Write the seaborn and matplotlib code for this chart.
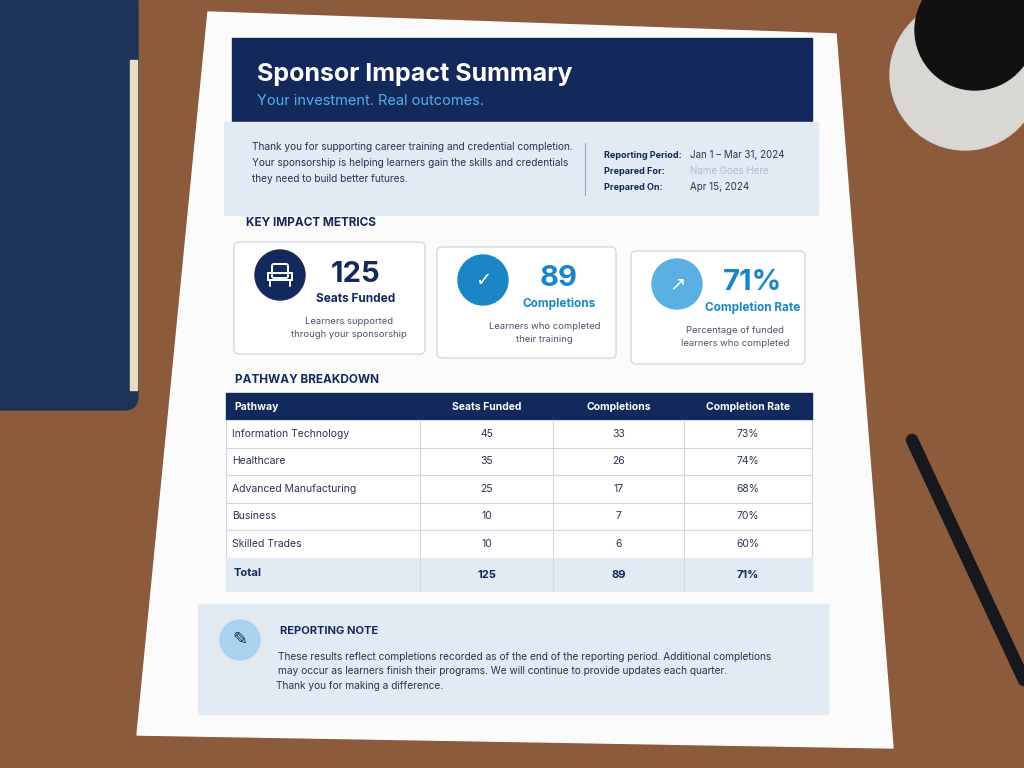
import matplotlib.pyplot as plt
import matplotlib.patches as mpatches
import seaborn as sns

# ---- data ----
pathways = ["Information Technology", "Healthcare", "Advanced Manufacturing", "Business", "Skilled Trades"]
seats_funded = [45, 35, 25, 10, 10]
completions = [33, 26, 17, 7, 6]
completion_rate = ["73%", "74%", "68%", "70%", "60%"]
table_columns = ["Pathway", "Seats Funded", "Completions", "Completion Rate"]
total_row = ["Total", "125", "89", "71%"]

metric_values = ["125", "89", "71%"]
metric_labels = ["Seats Funded", "Completions", "Completion Rate"]
metric_desc = ["Learners supported\nthrough your sponsorship",
               "Learners who completed\ntheir training",
               "Percentage of funded\nlearners who completed"]
metric_icons = ["", "\u2713", "\u2197"]

intro_lines = ["Thank you for supporting career training and credential completion.",
               "Your sponsorship is helping learners gain the skills and credentials",
               "they need to build better futures."]
info_labels = ["Reporting Period:", "Prepared For:", "Prepared On:"]
info_values = ["Jan 1 \u2013 Mar 31, 2024", "Name Goes Here", "Apr 15, 2024"]
note_lines = ["These results reflect completions recorded as of the end of the reporting period. Additional completions",
              "may occur as learners finish their programs. We will continue to provide updates each quarter."]

NAVY = "#13295b"
BLUE = "#1b86c6"
LIGHT = "#e2eaf4"

sns.set_theme(style="white")
plt.rcParams['font.family'] = ['Inter', 'DejaVu Sans']

fig = plt.figure(figsize=(10.24, 7.68), dpi=100)
ax = fig.add_axes([0, 0, 1, 1])
ax.set_xlim(0, 1024)
ax.set_ylim(768, 0)
ax.axis("off")

# desk and props
ax.add_patch(mpatches.Rectangle((0, 0), 1024, 768, color="#8b5b3b", zorder=0))
ax.add_patch(mpatches.FancyBboxPatch((-20, -10), 158, 420, boxstyle="round,pad=0,rounding_size=14",
                                     color="#1d3358", zorder=1))
ax.add_patch(mpatches.Rectangle((130, 60), 7, 330, color="#e8dcc0", zorder=1))
ax.add_patch(mpatches.Circle((965, 75), 75, color="#d9d7d2", zorder=1))
ax.add_patch(mpatches.Circle((975, 30), 60, color="#111111", zorder=1))
ax.plot([912, 1024], [440, 680], color="#16181d", lw=9, solid_capstyle="round", zorder=1)

# paper
ax.add_patch(mpatches.Polygon([(208, 12), (836, 34), (893, 748), (137, 735)],
                              closed=True, color="#fbfbfc", zorder=2))

# header
ax.add_patch(mpatches.Rectangle((232, 38), 580, 97, color=NAVY, zorder=3))
ax.text(257, 75, "Sponsor Impact Summary", color="white", fontsize=18, fontweight="bold", va="center", zorder=4)
ax.text(257, 101, "Your investment. Real outcomes.", color="#4fb3e8", fontsize=10.5, va="center", zorder=4)

# intro band
ax.add_patch(mpatches.Rectangle((224, 122), 594, 93, color=LIGHT, zorder=3))
for i, line in enumerate(intro_lines):
    ax.text(252, 147 + i * 16, line, color="#2a3550", fontsize=7.3, va="center", zorder=4)
ax.plot([585, 585], [143, 195], color="#9aa8bd", lw=0.8, zorder=4)
for i, (lab, val) in enumerate(zip(info_labels, info_values)):
    y = 155 + i * 16
    ax.text(604, y, lab, color=NAVY, fontsize=6.5, fontweight="bold", va="center", zorder=4)
    ax.text(690, y, val, color="#2a3550", fontsize=7, va="center", zorder=4,
            alpha=0.25 if i == 1 else 1)

# key metrics
ax.text(246, 223, "KEY IMPACT METRICS", color=NAVY, fontsize=8.5, fontweight="bold", va="center", zorder=4)
cards = [(234, 242, 191, 112), (437, 247, 179, 111), (631, 251, 174, 113)]
for (x, y, w, h), val, lab, desc, ic, k in zip(cards, metric_values, metric_labels, metric_desc,
                                               metric_icons, range(3)):
    ax.add_patch(mpatches.FancyBboxPatch((x, y), w, h, boxstyle="round,pad=0,rounding_size=5",
                                         fc="white", ec="#cfd6df", lw=0.9, zorder=3))
    cc = [NAVY, BLUE, "#5ab0e0"][k]
    cx, cy = x + 46, y + 33
    ax.add_patch(mpatches.Circle((cx, cy), 25, color=cc, zorder=4))
    if ic:
        ax.text(cx, cy, ic, color="white", fontsize=14, ha="center", va="center",
                family=["DejaVu Sans"], zorder=5)
    else:
        # chair outline
        ax.add_patch(mpatches.FancyBboxPatch((cx - 8, cy - 11), 16, 14, boxstyle="round,pad=0,rounding_size=2",
                                             fc="none", ec="white", lw=1.4, zorder=5))
        ax.add_patch(mpatches.Rectangle((cx - 12, cy - 2), 24, 7, fc="none", ec="white", lw=1.4, zorder=5))
        ax.plot([cx - 10, cx - 10], [cy + 5, cy + 11], color="white", lw=1.4, zorder=5)
        ax.plot([cx + 10, cx + 10], [cy + 5, cy + 11], color="white", lw=1.4, zorder=5)
    vc = NAVY if k == 0 else BLUE
    ax.text(x + 122, y + 32, val, color=vc, fontsize=21, fontweight="bold", ha="center", va="center", zorder=4)
    ax.text(x + 122, y + 57, lab, color=vc, fontsize=8.5, fontweight="bold", ha="center", va="center", zorder=4)
    ax.text(x + w * 0.6, y + 86, desc, color="#4a5468", fontsize=6.8, ha="center", va="center",
            linespacing=1.5, zorder=4)

# pathway table
ax.text(235, 380, "PATHWAY BREAKDOWN", color=NAVY, fontsize=8.5, fontweight="bold", va="center", zorder=4)
col_x = [226, 420, 553, 684, 812]
top, hh, rh = 393, 27, 27.5
ax.add_patch(mpatches.Rectangle((col_x[0], top), col_x[-1] - col_x[0], hh, color=NAVY, zorder=3))
for j, c in enumerate(table_columns):
    if j == 0:
        ax.text(col_x[0] + 8, top + hh / 2, c, color="white", fontsize=7.5, fontweight="bold", va="center", zorder=4)
    else:
        ax.text((col_x[j] + col_x[j + 1]) / 2, top + hh / 2, c, color="white", fontsize=7.5,
                fontweight="bold", ha="center", va="center", zorder=4)
rows = [[p, str(s), str(c), r] for p, s, c, r in zip(pathways, seats_funded, completions, completion_rate)]
y = top + hh
for row in rows:
    ax.add_patch(mpatches.Rectangle((col_x[0], y), col_x[-1] - col_x[0], rh, fc="white",
                                    ec="#d2d8e0", lw=0.8, zorder=3))
    for j, v in enumerate(row):
        if j == 0:
            ax.text(col_x[0] + 6, y + rh / 2, v, color="#2a3550", fontsize=7.5, va="center", zorder=4)
        else:
            ax.text((col_x[j] + col_x[j + 1]) / 2, y + rh / 2, v, color="#2a3550", fontsize=7.5,
                    ha="center", va="center", zorder=4)
    y += rh
for xx in col_x[1:-1]:
    ax.plot([xx, xx], [top + hh, y + 33], color="#d2d8e0", lw=0.8, zorder=4)
ax.add_patch(mpatches.Rectangle((col_x[0], y), col_x[-1] - col_x[0], 33, color=LIGHT, zorder=3))
for j, v in enumerate(total_row):
    if j == 0:
        ax.text(col_x[0] + 8, y + 15, v, color=NAVY, fontsize=8, fontweight="bold", va="center", zorder=4)
    else:
        ax.text((col_x[j] + col_x[j + 1]) / 2, y + 17, v, color=NAVY, fontsize=8,
                fontweight="bold", ha="center", va="center", zorder=4)

# reporting note
ax.add_patch(mpatches.Rectangle((198, 604), 630, 110, color=LIGHT, zorder=3))
ax.add_patch(mpatches.Circle((240, 640), 20, color="#a9d3ef", zorder=4))
ax.text(240, 640, "\u270E", color=NAVY, fontsize=13, ha="center", va="center", family=["DejaVu Sans"], zorder=5)
ax.text(280, 631, "REPORTING NOTE", color=NAVY, fontsize=8, fontweight="bold", va="center", zorder=4)
for i, line in enumerate(note_lines):
    ax.text(278, 657 + i * 14, line, color="#2a3550", fontsize=7.3, va="center", zorder=4)
ax.text(276, 686, "Thank you for making a difference.", color="#2a3550", fontsize=7.3, va="center", zorder=4)

plt.savefig("out.png", dpi=100)
plt.close()
